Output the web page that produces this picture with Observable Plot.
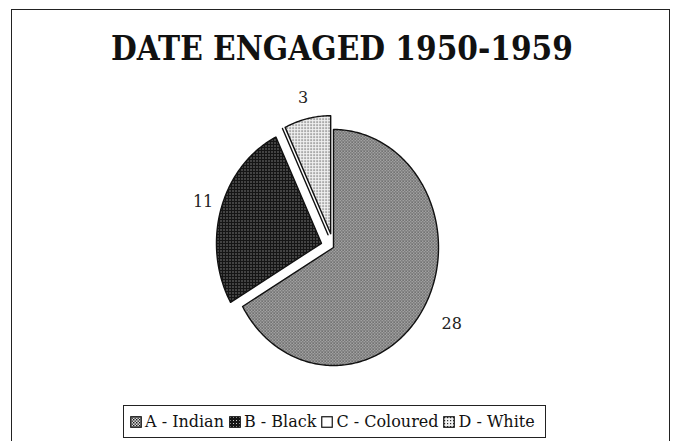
<!DOCTYPE html>
<html><head><meta charset="utf-8">
<script src="https://cdn.jsdelivr.net/npm/d3@7"></script>
<script src="https://cdn.jsdelivr.net/npm/@observablehq/plot@0.6"></script>
<style>
html,body{margin:0;padding:0;background:#fff;}
#wrap{position:relative;width:678px;height:441px;overflow:hidden;background:#fff;}
#frame{position:absolute;left:11px;top:9px;width:657px;height:450px;border:1.5px solid #222;border-bottom:none;}
#title{position:absolute;left:0;width:684px;top:29px;text-align:center;font-family:"DejaVu Serif Condensed","DejaVu Serif";font-stretch:condensed;font-weight:bold;font-size:33px;color:#111;}
#chart{position:absolute;left:0;top:0;}
#legend{position:absolute;left:123px;top:405px;width:423px;height:33px;border:1.5px solid #222;box-sizing:border-box;font-family:"DejaVu Serif";font-size:16px;color:#111;display:flex;align-items:center;justify-content:flex-start;padding-left:5px;white-space:nowrap;}
#legend svg{margin:0 3px 0 1px;}
</style></head>
<body><div id="wrap"><div id="frame"></div><div id="chart"></div><div id="title">DATE ENGAGED 1950-1959</div><div id="legend"></div></div>
<script>
// ---- data ----
const titleText = "DATE ENGAGED 1950-1959";
const categories = ["A - Indian", "B - Black", "C - Coloured", "D - White"];
const counts = [28, 11, 0, 3];
// ---- styling ----
const patternIds = ["patA", "patB", "patC", "patD"];
const explodeBy = [0, 0.12, 0.12, 0.12];
const labelRadius = 1.3;

const total = d3.sum(counts);
let acc = 0;
const slices = categories.map((c, i) => {
  const a0 = acc / total * 2 * Math.PI; acc += counts[i];
  const a1 = acc / total * 2 * Math.PI;
  const mid = (a0 + a1) / 2, e = explodeBy[i];
  return {c, v: counts[i], a0, a1, mid, ox: e * Math.sin(mid), oy: e * Math.cos(mid), pat: patternIds[i]};
});
function slicePoints(s) {
  const pts = [{x: s.ox, y: s.oy}];
  const n = Math.max(2, Math.ceil((s.a1 - s.a0) / (Math.PI / 180)));
  for (let k = 0; k <= n; k++) {
    const a = s.a0 + (s.a1 - s.a0) * k / n;
    pts.push({x: s.ox + Math.sin(a), y: s.oy + Math.cos(a)});
  }
  return pts;
}
const labels = slices.filter(s => s.v > 0).map(s => ({
  x: labelRadius * Math.sin(s.mid), y: labelRadius * Math.cos(s.mid), t: String(s.v)
}));

const W = 678, H = 441;
const plot = Plot.plot({
  width: W, height: H,
  marginLeft: 228, marginRight: 240, marginTop: 129, marginBottom: 76,
  x: {domain: [-1, 1], axis: null},
  y: {domain: [-1, 1], axis: null},
  style: {background: "transparent", overflow: "visible"},
  marks: [
    ...slices.map(s => Plot.line(slicePoints(s), {
      x: "x", y: "y", curve: "linear-closed",
      fill: `url(#${s.pat})`, stroke: "#111", strokeWidth: 1.4, strokeLinejoin: "round"
    })),
    Plot.text(labels, {x: "x", y: "y", text: "t", textAnchor: "middle", fontFamily: "DejaVu Serif", fontSize: 16, fill: "#222"})
  ]
});
// patterns
const ns = "http://www.w3.org/2000/svg";
const defs = document.createElementNS(ns, "defs");
defs.innerHTML = `
<pattern id="patA" width="3" height="3" patternUnits="userSpaceOnUse">
  <rect width="3" height="3" fill="#d8d8d8"/>
  <rect x="0" y="0" width="1.4" height="1.4" fill="#1a1a1a"/>
  <rect x="1.5" y="1.5" width="1.4" height="1.4" fill="#2a2a2a"/>
</pattern>
<pattern id="patB" width="3" height="3" patternUnits="userSpaceOnUse">
  <rect width="3" height="3" fill="#151515"/>
  <rect x="1" y="1" width="1" height="1" fill="#ccc"/>
</pattern>
<pattern id="patC" width="3" height="3" patternUnits="userSpaceOnUse">
  <rect width="3" height="3" fill="#fff"/>
</pattern>
<pattern id="patD" width="3" height="3" patternUnits="userSpaceOnUse">
  <rect width="3" height="3" fill="#f2f2f2"/>
  <rect x="1" y="1" width="1.2" height="1.2" fill="#2a2a2a"/>
</pattern>`;
plot.insertBefore(defs, plot.firstChild);
document.getElementById("chart").appendChild(plot);
document.getElementById("title").textContent = titleText;

// legend
const leg = document.getElementById("legend");
categories.forEach((c, i) => {
  const sw = document.createElementNS(ns, "svg");
  sw.setAttribute("width", 12); sw.setAttribute("height", 12);
  sw.innerHTML = `<rect x="0.75" y="0.75" width="10.5" height="10.5" fill="url(#${patternIds[i]})" stroke="#111" stroke-width="1.2"/>`;
  leg.appendChild(sw);
  const sp = document.createElement("span");
  sp.textContent = c;
  sp.style.marginRight = i < categories.length - 1 ? "4px" : "0";
  leg.appendChild(sp);
});
</script></body></html>
